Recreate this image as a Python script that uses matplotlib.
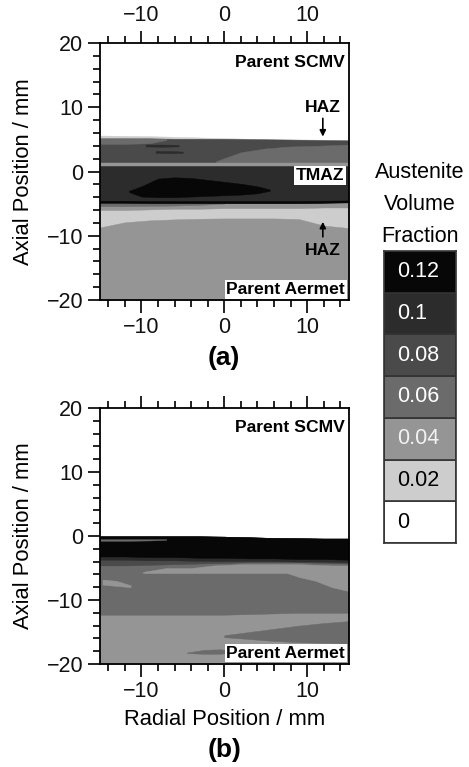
import matplotlib
matplotlib.use("Agg")
import matplotlib.pyplot as plt
from matplotlib.ticker import MultipleLocator

plt.rcParams['font.family'] = ['Liberation Sans', 'DejaVu Sans']

# Austenite volume fraction classes and their grey shades
levels = [0, 0.02, 0.04, 0.06, 0.08, 0.1, 0.12]
level_labels = ['0', '0.02', '0.04', '0.06', '0.08', '0.1', '0.12']
level_colors = ['#ffffff', '#cdcdcd', '#959595', '#6b6b6b', '#4a4a4a', '#2c2c2c', '#070707']
label_colors = ['black', 'black', '#f2f2f2', 'white', 'white', 'white', 'white']
shade = dict(zip(levels, level_colors))

# ---- (a) band boundaries: axial position (mm) at radial positions (mm)
a_x = [-15, -12, -9, -6, -3, 0, 3, 6, 9, 12, 15]
a_weld_top = [5.6, 5.55, 5.5, 5.4, 5.3, 5.2, 5.1, 5.05, 5.0, 4.95, 4.9]
a_band_top = [5.15, 5.15, 5.15, 5.1, 5.1, 5.1, 5.05, 5.0, 4.95, 4.9, 4.85]
a_aermet_top = [-8.7, -7.9, -7.6, -7.45, -7.35, -7.3, -7.3, -7.3, -7.4, -8.4, -8.8]
a_haz_low = [-6.0, -6.0, -5.9, -5.8, -5.8, -5.7, -5.7, -5.7, -5.7, -5.6, -5.6]
a_weld_bottom = [-4.85, -4.85, -4.9, -4.9, -4.9, -4.9, -4.9, -4.9, -4.9, -4.85, -4.8]
a_rim_top = [-4.55, -4.55, -4.6, -4.6, -4.6, -4.6, -4.6, -4.6, -4.6, -4.55, -4.5]
a_line_low = [0.8] * 11
a_line_high = [1.35] * 11

a_streak_x = [-15, -12, -9, -6, -3, 0]
a_streak_low = [-5.4, -5.4, -5.35, -5.3, -5.2, -5.0]

a_cap_x = [-15, -12, -9, -7]
a_cap_low = [4.3, 4.3, 4.4, 4.9]
a_cap_high = [5.15, 5.15, 5.15, 5.1]

a_upper_x = [-1, 2, 5, 8, 11, 15]
a_upper_low = [1.35, 1.35, 1.35, 1.35, 1.35, 1.35]
a_upper_high = [1.6, 3.0, 3.6, 3.9, 4.0, 4.2]

a_dash1_x = [-9.5, -7.5, -5.5]
a_dash1_low = [3.9, 3.85, 3.9]
a_dash1_high = [4.2, 4.2, 4.15]
a_dash2_x = [-8.3, -6.5, -5.0]
a_dash2_low = [2.9, 2.85, 2.9]
a_dash2_high = [3.2, 3.2, 3.1]

a_blob_x = [-11.5, -10, -8, -6, -4, -2, 0, 2, 4, 5.5]
a_blob_low = [-3.2, -3.9, -4.0, -4.0, -3.9, -3.8, -3.7, -3.6, -3.4, -3.0]
a_blob_high = [-3.0, -2.3, -1.1, -0.9, -1.0, -1.3, -1.6, -1.9, -2.3, -2.8]

# ---- (b) band boundaries
b_x = [-15, -12, -9, -6, -3, 0, 3, 6, 9, 12, 15]
b_weld_top = [-0.05, -0.05, -0.05, -0.05, -0.05, -0.1, -0.2, -0.3, -0.35, -0.4, -0.4]
b_black_bottom = [-3.2, -3.2, -3.3, -3.3, -3.4, -3.4, -3.5, -3.5, -3.6, -3.6, -3.7]
b_dark_bottom = [-3.7, -3.7, -3.8, -3.8, -3.9, -3.9, -3.9, -3.9, -4.0, -4.0, -4.1]
b_mid_bottom = [-4.6, -4.6, -4.5, -4.4, -4.3, -4.2, -4.1, -4.1, -4.1, -4.2, -4.3]
b_band_bottom = [-12.3, -12.3, -12.3, -12.3, -12.3, -12.3, -12.2, -12.1, -12.0, -12.0, -12.0]

b_light_x = [-9.8, -7, -4, -1.3, 2, 5, 7.6, 9, 11, 13, 15]
b_light_low = [-5.8, -5.8, -5.8, -5.8, -5.8, -5.8, -5.8, -6.4, -7.0, -8.0, -8.6]
b_light_high = [-5.6, -5.0, -5.0, -4.6, -4.4, -4.4, -4.4, -4.4, -4.5, -4.6, -4.6]

b_nub_x = [-14.7, -13, -11.3]
b_nub_low = [-7.6, -7.8, -8.0]
b_nub_high = [-6.8, -7.0, -7.7]

b_tail_x = [0, 3, 6, 9, 12, 15]
b_tail_low = [-15.8, -16.1, -16.4, -16.6, -16.7, -16.8]
b_tail_high = [-15.5, -15.0, -14.5, -14.0, -13.6, -13.3]

b_sliver_x = [-4.5, -2.5, -0.5, 1]
b_sliver_low = [-18.3, -18.4, -18.4, -18.2]
b_sliver_high = [-18.2, -17.8, -17.7, -17.9]

b_seam_x = [-15, -12, -9, -7]
b_seam_low = [-0.75, -0.75, -0.7, -0.6]
b_seam_high = [-0.5, -0.5, -0.5, -0.5]

a_layers = [
    (0.02, a_x, -20, a_weld_top),
    (0.04, a_x, -20, a_aermet_top),
    (0.04, a_x, a_haz_low, a_weld_bottom),
    (0.06, a_streak_x, a_streak_low, a_weld_bottom[:6]),
    (0.08, a_x, a_weld_bottom, a_band_top),
    (0.06, a_cap_x, a_cap_low, a_cap_high),
    (0.06, a_upper_x, a_upper_low, a_upper_high),
    (0.1, a_dash1_x, a_dash1_low, a_dash1_high),
    (0.1, a_dash2_x, a_dash2_low, a_dash2_high),
    (0.04, a_x, a_line_low, a_line_high),
    (0.1, a_x, a_weld_bottom, a_line_low),
    (0.12, a_x, a_weld_bottom, a_rim_top),
    (0.12, a_blob_x, a_blob_low, a_blob_high),
]

b_layers = [
    (0.04, b_x, -20, b_weld_top),
    (0.06, b_x, b_band_bottom, b_weld_top),
    (0.06, b_tail_x, b_tail_low, b_tail_high),
    (0.06, b_sliver_x, b_sliver_low, b_sliver_high),
    (0.04, b_light_x, b_light_low, b_light_high),
    (0.04, b_nub_x, b_nub_low, b_nub_high),
    (0.08, b_x, b_mid_bottom, b_weld_top),
    (0.1, b_x, b_dark_bottom, b_weld_top),
    (0.12, b_x, b_black_bottom, b_weld_top),
    (0.06, b_seam_x, b_seam_low, b_seam_high),
]

fig = plt.figure(figsize=(4.69, 7.67), dpi=100)
W, H = 469.0, 767.0
ax_a = fig.add_axes([100 / W, 1 - 300 / H, 248.5 / W, 257 / H])
ax_b = fig.add_axes([100 / W, 1 - 664 / H, 248.5 / W, 256 / H])

bold = dict(fontsize=12.6, fontweight='bold', zorder=6)
box = dict(facecolor='white', edgecolor='none', pad=1.2)


def paint(ax, layers):
    for level, x, lower, upper in layers:
        ax.fill_between(x, lower, upper, color=shade[level], lw=0.3,
                        edgecolor=shade[level], zorder=1)


for ax in (ax_a, ax_b):
    ax.set_xlim(-15, 15)
    ax.set_ylim(-20, 20)
    ax.xaxis.set_major_locator(MultipleLocator(10))
    ax.xaxis.set_minor_locator(MultipleLocator(2))
    ax.yaxis.set_major_locator(MultipleLocator(10))
    ax.yaxis.set_minor_locator(MultipleLocator(2))
    ax.tick_params(which='both', direction='out', top=True, right=False,
                   width=1.3, labelsize=15.5, colors='#111111')
    ax.tick_params(which='major', length=9, pad=3)
    ax.tick_params(which='minor', length=5)
    for s in ax.spines.values():
        s.set_linewidth(1.3)
        s.set_zorder(7)
    ax.set_ylabel('Axial Position / mm', fontsize=15.8)
    ax.yaxis.set_label_coords(-0.265, 0.5)
    ax.text(14.6, 17.0, 'Parent SCMV', ha='right', va='center', **bold)

paint(ax_a, a_layers)
paint(ax_b, b_layers)

ax_a.tick_params(labeltop=True)
ax_b.tick_params(labeltop=False)

# (a) zone labels
ax_a.text(11.9, 9.9, 'HAZ', ha='center', va='center', **bold)
ax_a.annotate('', xy=(11.9, 5.0), xytext=(11.9, 8.7), zorder=6,
              arrowprops=dict(arrowstyle='-|>', lw=1.2, color='black',
                              mutation_scale=9))
ax_a.text(14.5, -0.6, 'TMAZ', ha='right', va='center', bbox=box, **bold)
ax_a.text(11.9, -12.3, 'HAZ', ha='center', va='center', **bold)
ax_a.annotate('', xy=(11.9, -7.4), xytext=(11.9, -10.6), zorder=6,
              arrowprops=dict(arrowstyle='-|>', lw=1.2, color='black',
                              mutation_scale=9))
ax_a.text(14.6, -18.4, 'Parent Aermet', ha='right', va='center', bbox=box, **bold)
ax_b.text(14.6, -18.3, 'Parent Aermet', ha='right', va='center', bbox=box, **bold)

ax_b.set_xlabel('Radial Position / mm', fontsize=15.8)
ax_b.xaxis.set_label_coords(0.5, -0.175)

fig.text(224 / W, 1 - 358 / H, '(a)', ha='center', va='center',
         fontsize=19, fontweight='bold')
fig.text(225 / W, 1 - 750 / H, '(b)', ha='center', va='center',
         fontsize=19, fontweight='bold')

# colour key
for txt, yc in [('Austenite', 172), ('Volume', 204), ('Fraction', 237)]:
    fig.text(420 / W, 1 - yc / H, txt, ha='center', va='center', fontsize=15.5)

cax = fig.add_axes([384 / W, 1 - 543 / H, 72 / W, 292 / H])
for i, (lab, col, tcol) in enumerate(zip(level_labels, level_colors, label_colors)):
    cax.bar(0.5, 1, bottom=i, width=1, color=col, edgecolor='#333333', lw=1.2)
    cax.text(0.18, i + 0.5, lab, ha='left', va='center', color=tcol, fontsize=15.5)
cax.set_xlim(0, 1)
cax.set_ylim(0, len(levels))
cax.set_xticks([])
cax.set_yticks([])
for s in cax.spines.values():
    s.set_linewidth(1.2)
    s.set_color('#333333')

fig.savefig('out.png', dpi=100)
